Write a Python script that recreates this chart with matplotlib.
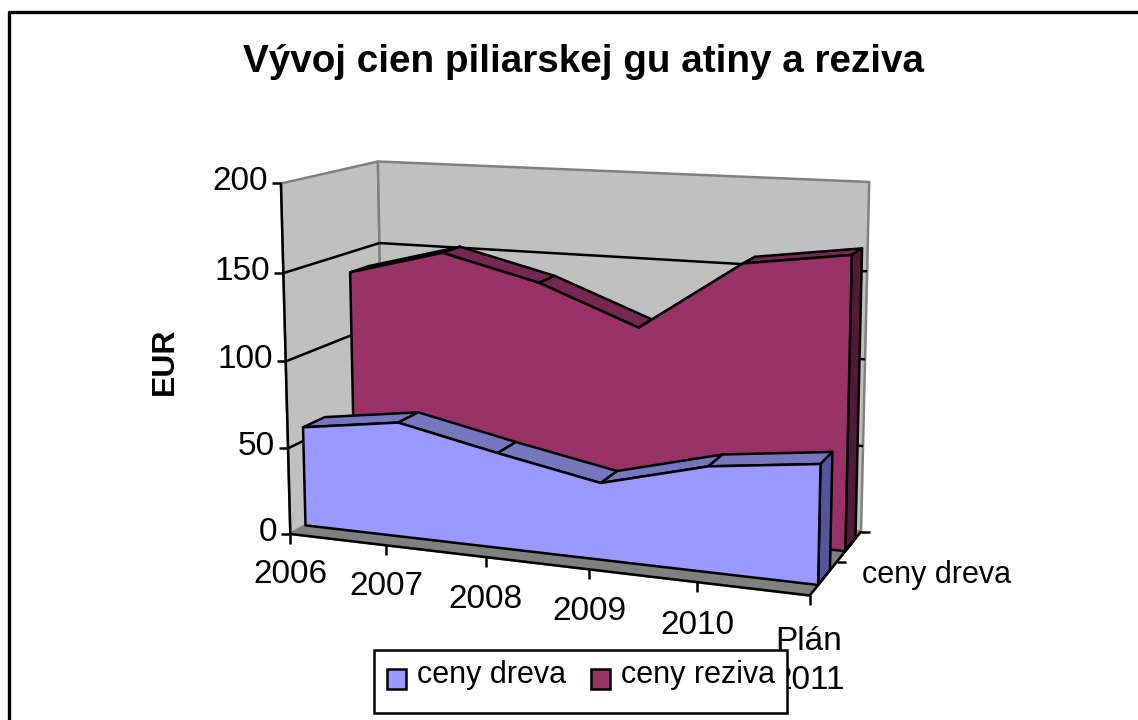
"""
Vyvoj cien - Excel style 3D area chart drawn on a plain 2D pixel axes
"""
import numpy as np
import matplotlib
matplotlib.use("Agg")
import matplotlib.pyplot as plt
from matplotlib.patches import Polygon, Rectangle

WIDTH, HEIGHT = 1138, 720

CATEGORIES = ["2006", "2007", "2008", "2009", "2010", "Plán\n2011"]
CENY_DREVA = [58, 66, 54, 43, 58, 65]
CENY_REZIVA = [138, 153, 139, 117, 157, 165]
Y_TICKS = [0, 50, 100, 150, 200]
SERIES_NAMES = ["ceny dreva", "ceny reziva"]
TITLE = "Vývoj cien piliarskej gu atiny a reziva"
Y_LABEL = "EUR"
Y_MAX = 200

# box corners (u along categories, v along value, w along depth) -> pixels
BOX_CORNERS = [
    ((0, 0, 0), (291, 533)),
    ((1, 0, 0), (810, 596)),
    ((0, 1, 0), (280, 184)),
    ((0, 0, 1), (383, 482)),
    ((1, 0, 1), (861, 531)),
    ((0, 1, 1), (379, 161)),
    ((1, 1, 1), (869, 182)),
]

# depth range of each area slab
DEPTHS = [(0.15, 0.37), (0.67, 0.88)]

WALL = "#C0C0C0"
WALL_EDGE = "#808080"
FLOOR = "#808080"
FACE_COLORS = [("#9999FF", "#7777C0", "#555599"), ("#993366", "#772850", "#511B38")]
LW = 1.8
FS_NUM = 24
FS_TEXT = 22


def fit_projection(pairs):
    rows = []
    for (X, Y, Z), (x, y) in pairs:
        rows.append([X, Y, Z, 1, 0, 0, 0, 0, -x * X, -x * Y, -x * Z, -x])
        rows.append([0, 0, 0, 0, X, Y, Z, 1, -y * X, -y * Y, -y * Z, -y])
    A = np.array(rows, dtype=float)
    scale = np.array([1, 1, 1, 1, 1, 1, 1, 1, 1e-3, 1e-3, 1e-3, 1e-3])
    _, _, vt = np.linalg.svd(A * scale)
    return (vt[-1] * scale).reshape(3, 4)


P = fit_projection(BOX_CORNERS)
N = len(CATEGORIES)


def proj(u, v, w):
    h = P @ np.array([u, v, w, 1.0])
    return h[0] / h[2], h[1] / h[2]


def cat_u(i):
    return i / (N - 1)


def val_v(value):
    return value / Y_MAX


def quad(ax, pts, color, edge="black", lw=LW, z=2):
    ax.add_patch(Polygon(pts, closed=True, facecolor=color, edgecolor=edge,
                         linewidth=lw, joinstyle="round", zorder=z))


def line(ax, a, b, color="black", lw=LW, z=3):
    ax.plot([a[0], b[0]], [a[1], b[1]], color=color, linewidth=lw,
            solid_capstyle="butt", zorder=z)


def draw_walls(ax):
    quad(ax, [proj(0, 0, 0), proj(0, 1, 0), proj(0, 1, 1), proj(0, 0, 1)], WALL, WALL_EDGE, z=1)
    quad(ax, [proj(0, 0, 1), proj(0, 1, 1), proj(1, 1, 1), proj(1, 0, 1)], WALL, WALL_EDGE, z=1)
    quad(ax, [proj(0, 0, 0), proj(1, 0, 0), proj(1, 0, 1), proj(0, 0, 1)], FLOOR, FLOOR, z=1)
    for t in Y_TICKS[1:-1]:
        v = val_v(t)
        line(ax, proj(0, v, 0), proj(0, v, 1), z=1.5)
        line(ax, proj(0, v, 1), proj(1, v, 1), z=1.5)


def draw_slab(ax, values, depth, colors, z):
    front, top, side = colors
    w0, w1 = depth
    for i in range(N - 1):
        u0, u1 = cat_u(i), cat_u(i + 1)
        v0, v1 = val_v(values[i]), val_v(values[i + 1])
        quad(ax, [proj(u0, v0, w0), proj(u1, v1, w0), proj(u1, v1, w1), proj(u0, v0, w1)], top, z=z)
    vend = val_v(values[-1])
    quad(ax, [proj(1, 0, w0), proj(1, vend, w0), proj(1, vend, w1), proj(1, 0, w1)], side, z=z)
    outline = [proj(0, 0, w0)]
    outline += [proj(cat_u(i), val_v(values[i]), w0) for i in range(N)]
    outline += [proj(1, 0, w0)]
    quad(ax, outline, front, z=z + 0.1)


def draw_axes(ax):
    line(ax, proj(0, 0, 0), proj(0, 1, 0), z=6)
    line(ax, proj(0, 0, 0), proj(1, 0, 0), z=6)
    line(ax, proj(1, 0, 0), proj(1, 0, 1), z=6)
    for t in Y_TICKS:
        x, y = proj(0, val_v(t), 0)
        line(ax, (x - 9, y), (x, y), z=6)
        ax.text(x - 13, y - 1.5, str(t), ha="right", va="center", fontsize=FS_NUM)
    for i, label in enumerate(CATEGORIES):
        x, y = proj(cat_u(i), 0, 0)
        line(ax, (x, y), (x, y + 10), z=6)
        if "\n" in label:
            ax.text(x - 1, 661, label, ha="center", va="center", fontsize=FS_NUM,
                    linespacing=1.36, zorder=3)
        else:
            ax.text(x, y + 41 + i * 0.5, label, ha="center", va="center", fontsize=FS_NUM)
    # depth axis ticks sit between and behind the two slabs
    for w in (0.5, 1.0):
        x, y = proj(1, 0, w)
        line(ax, (x, y), (x + 9, y), z=6)
    ax.text(862, 575, SERIES_NAMES[0], ha="left", va="center", fontsize=FS_TEXT)


def draw_legend(ax):
    ax.add_patch(Rectangle((374, 650), 413, 63, facecolor="white", edgecolor="black",
                           linewidth=LW, zorder=8))
    for sx, tx, name, colors in zip((387, 591), (417, 621), SERIES_NAMES, FACE_COLORS):
        ax.add_patch(Rectangle((sx, 669), 19, 20, facecolor=colors[0], edgecolor="black",
                               linewidth=LW, zorder=9))
        ax.text(tx, 675, name, ha="left", va="center", fontsize=FS_TEXT, zorder=9)


plt.rcParams["font.family"] = ["Liberation Sans"]


def main():
    fig = plt.figure(figsize=(WIDTH / 100, HEIGHT / 100), dpi=100, facecolor="white")
    ax = fig.add_axes([0, 0, 1, 1])
    ax.set_xlim(0, WIDTH)
    ax.set_ylim(HEIGHT, 0)
    ax.axis("off")

    ax.plot([9, 9, WIDTH], [HEIGHT, 12, 12], color="black", linewidth=2.4, zorder=1)
    draw_walls(ax)
    draw_slab(ax, CENY_REZIVA, DEPTHS[1], FACE_COLORS[1], 3)
    draw_slab(ax, CENY_DREVA, DEPTHS[0], FACE_COLORS[0], 4)
    draw_axes(ax)
    draw_legend(ax)

    ax.text(584, 62, TITLE, ha="center", va="center", fontsize=27.8, fontweight="bold")
    ax.text(165, 361, Y_LABEL, rotation=90, ha="center", va="center", fontsize=23, fontweight="bold")

    fig.savefig("out.png", dpi=100)
    plt.close(fig)


if __name__ == "__main__":
    main()
